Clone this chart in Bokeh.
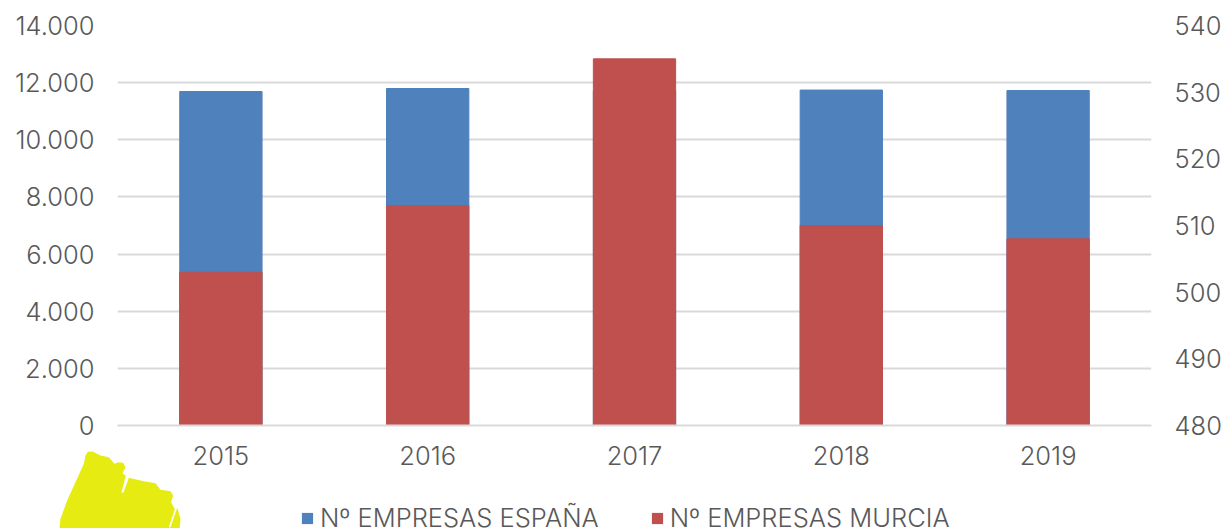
from bokeh.plotting import figure
from bokeh.layouts import column
from bokeh.models import (FactorRange, Range1d, LinearAxis, Legend, LegendItem,
                          FixedTicker, ColumnDataSource)
from bokeh.embed import file_html
from bokeh.resources import INLINE

years = ["2015", "2016", "2017", "2018", "2019"]
espana = [11690, 11795, 11700, 11740, 11725]
murcia = [503, 513, 535, 510, 508]
left_ticks = [0, 2000, 4000, 6000, 8000, 10000, 12000, 14000]
left_labels = ["0", "2.000", "4.000", "6.000", "8.000", "10.000", "12.000", "14.000"]
right_ticks = [480, 490, 500, 510, 520, 530, 540]
names = ["Nº EMPRESAS ESPAÑA", "Nº EMPRESAS MURCIA"]
blob_zoom = [(262,64),(276,63),(300,75),(325,80),(342,100),(352,95),(368,97),(375,110),(366,128),
             (376,136),(363,186),(369,186),(385,142),(430,152),(465,158),(480,178),(510,182),(518,195),
             (512,215),(523,236),(505,290),(510,290),(530,232),(540,265),(537,300),(176,300),(180,265),
             (200,210),(250,100),(255,75)]

FONT = "Inter Light"
TXT = "#595959"
GRID = "#d9d9d9"
BLUE = "#4f81bd"
RED = "#c0504d"

p = figure(width=1224, height=528, output_backend="svg", toolbar_location=None,
           x_range=FactorRange(*years, range_padding=0, factor_padding=0),
           y_range=Range1d(0, 14000), frame_align=False,
           min_border_left=117, min_border_right=73, min_border_top=25, min_border_bottom=103,
           outline_line_color=None, background_fill_color="white", border_fill_color="white")
p.extra_y_ranges = {"murcia": Range1d(480, 540)}

src = ColumnDataSource(dict(year=years, espana=espana, murcia=murcia))
p.vbar(x="year", top="espana", width=0.398, source=src, color=BLUE)
p.vbar(x="year", top="murcia", bottom=480, width=0.398, source=src, color=RED, y_range_name="murcia")

def style(ax):
    ax.axis_line_color = None
    ax.major_tick_line_color = None
    ax.minor_tick_line_color = None
    ax.major_tick_out = 0
    ax.major_tick_in = 0
    ax.major_label_text_font = FONT
    ax.major_label_text_font_size = "25.5px"
    ax.major_label_text_color = TXT

p.yaxis.ticker = FixedTicker(ticks=left_ticks)
p.yaxis.major_label_overrides = dict(zip(left_ticks, left_labels))
style(p.yaxis[0])
p.yaxis.major_label_standoff = 23

ra = LinearAxis(y_range_name="murcia", ticker=FixedTicker(ticks=right_ticks))
style(ra)
ra.major_label_standoff = 23
p.add_layout(ra, "right")

style(p.xaxis[0])
p.xaxis.major_label_standoff = 20
p.xaxis.axis_line_color = GRID
p.xaxis.axis_line_width = 2

p.xgrid.grid_line_color = None
p.ygrid.ticker = FixedTicker(ticks=left_ticks)
p.ygrid.grid_line_color = GRID
p.ygrid.grid_line_width = 2

# Transparent strip over the bottom of the chart: holds the map decoration and the legend.
p2 = figure(width=1224, height=78, output_backend="svg", toolbar_location=None,
            x_range=Range1d(0, 1224), y_range=Range1d(528, 450), frame_align=False,
            x_axis_location=None, y_axis_location=None,
            min_border=0, min_border_left=0, min_border_right=0, min_border_top=0, min_border_bottom=0,
            outline_line_color=None, background_fill_alpha=0, border_fill_alpha=0,
            margin=(-78, 0, 0, 0))
p2.grid.visible = False
# Zero-sized proxies that only carry the legend swatches, hidden under the decoration.
l1 = p2.vbar(x=[100], top=[520], bottom=[520], width=0, fill_color=BLUE, line_color=None)
l2 = p2.vbar(x=[100], top=[520], bottom=[520], width=0, fill_color=RED, line_color=None)
p2.patch([x/3 for x, y in blob_zoom], [430 + y/3 for x, y in blob_zoom], fill_color="#e6ec12", line_color=None)
leg = Legend(items=[LegendItem(label=names[0], renderers=[l1]), LegendItem(label=names[1], renderers=[l2])],
             orientation="horizontal", location=(300, -5), background_fill_alpha=0, border_line_color=None,
             label_text_font=FONT, label_text_font_size="25.5px", label_text_color=TXT,
             glyph_width=14, glyph_height=14, label_standoff=6, spacing=51, padding=0, margin=0)
p2.add_layout(leg, "center")

open("out.html", "w").write(file_html(column(p, p2, spacing=0), INLINE))
